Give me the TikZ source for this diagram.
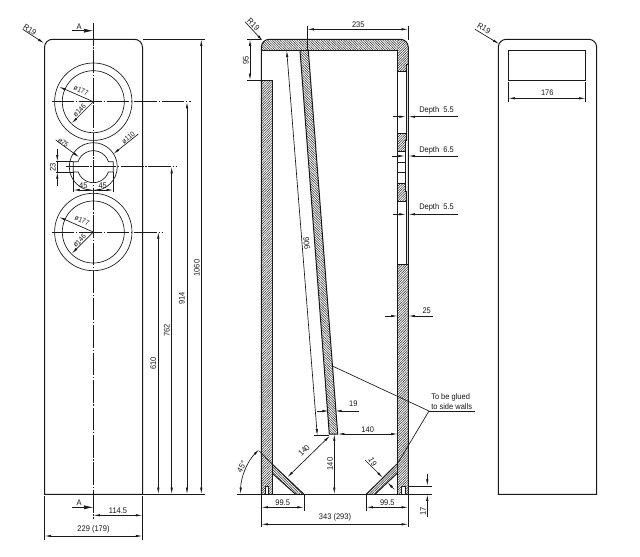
\documentclass[tikz,border=0pt]{standalone}
\usepackage{fontspec}
\setmainfont[FakeStretch=0.92]{Liberation Sans}
\usetikzlibrary{arrows.meta,patterns.meta}
\tikzset{
  x=0.75pt,y=-0.75pt,
  outl/.style={draw=black!90,line width=0.75pt},
  thin dim/.style={draw=black!90,line width=0.5pt},
  dim/.style={thin dim,{Latex[length=5pt,width=1.8pt]}-{Latex[length=5pt,width=1.8pt]}},
  ldr/.style={thin dim,-{Latex[length=5pt,width=1.8pt]}},
  ctr/.style={draw=black!90,line width=0.5pt,dash pattern=on 17pt off 1.3pt on 1pt off 1.3pt},
  hatchA/.style={pattern={Lines[angle=45,distance=1.3pt,line width=0.38pt]},pattern color=black!85},
  hatchB/.style={pattern={Lines[angle=-45,distance=1.3pt,line width=0.38pt]},pattern color=black!85},
  lab/.style={inner sep=0pt,font=\fontsize{6.1}{7}\selectfont,text=black!90},
  smalllab/.style={inner sep=0pt,font=\fontsize{5.4}{6}\selectfont,text=black!90},
}
\begin{document}
\begin{tikzpicture}
\useasboundingbox[fill=white] (0,0) rectangle (640,557);
% ---------- front view
\draw[outl] (44.5,494.3) -- (44.5,47.3) arc[start angle=180,end angle=270,radius=8] -- (134.5,39.3) arc[start angle=270,end angle=360,radius=8] -- (142.5,494.3) -- cycle;
\coordinate (c1) at (93.3,101.7);
\coordinate (c2) at (93.3,166.7);
\coordinate (c3) at (93.3,232);
\draw[outl,line width=0.5pt] (c1) circle[radius=38.7] (c1) circle[radius=31];
\draw[outl,line width=0.5pt] (c3) circle[radius=38.7] (c3) circle[radius=31];
\draw[outl,line width=0.5pt] (c2) circle[radius=24];
\draw[outl,line width=0.5pt] (73.3,161.7) -- (78.1,161.7) arc[start angle=198.2,end angle=341.8,radius=16] -- (113.3,161.7) -- (113.3,172) -- (108.4,172) arc[start angle=19.4,end angle=160.6,radius=16] -- (73.3,172) -- cycle;
\draw[ctr] (93.3,23) -- (93.3,519);
\draw[ctr] (51.7,101.7) -- (190.7,101.7);
\draw[ctr] (66,166.7) -- (176.7,166.7);
\draw[ctr] (51.7,232) -- (162,232);
\draw[thin dim] (142.5,39.3) -- (205,39.3) (142.5,494.3) -- (205,494.3);
\foreach \nm/\xx/\yy/\tx/\ty/\tt in {a/158.3/232/153.3/363.3/610,b/171.7/166.7/166.7/330.7/762,c/187/101.7/181.7/298.3/914,d/201.3/39.3/196.7/268/1060}{
  \draw[dim] (\xx,\yy) -- (\xx,494.3);
  \node[lab,rotate=90] (dim\nm) at (\tx,\ty) {\tt};
}
% A markers
\draw[thin dim,-{Latex[length=7pt,width=3pt]}] (72,30.7) -- (93.3,30.7);
\node[lab] (a1) at (79,27) {A};
\draw[thin dim,-{Latex[length=7pt,width=3pt]}] (72,507.3) -- (93.3,507.3);
\node[lab] (a2) at (79,503) {A};
% bottom dims
\draw[thin dim] (44.5,496) -- (44.5,540) (142.5,496) -- (142.5,540);
\draw[dim] (93.3,515.3) -- (142.5,515.3);
\node[lab] (t114) at (118,511) {114.5};
\draw[dim] (44.5,536) -- (142.5,536);
\node[lab] (t229) at (93.5,529) {229 (179)};
% radii
\draw[ldr] (22.7,29.3) -- (44.3,43.3);
\node[lab,rotate=-33] (r1) at (30,30) {R19};
\draw[ldr] (93.3,101.7) -- (59,86.7);
\node[smalllab,rotate=-24] (d1) at (81,90.5) {ø177};
\draw[ldr] (93.3,101.7) -- (71.7,123.3);
\node[smalllab,rotate=45] (d2) at (79.5,110.5) {ø146};
\draw[ldr] (93.3,232) -- (59,217);
\node[smalllab,rotate=-24] (d3) at (82,220.5) {ø177};
\draw[ldr] (93.3,232) -- (71.7,253.6);
\node[smalllab,rotate=45] (d4) at (79.5,240.8) {ø146};
\draw[ldr] (55.7,140) -- (79.3,157.3);
\node[smalllab,rotate=-37] (d5) at (63.3,142.7) {ø75};
\draw[ldr] (138.3,134) -- (113.3,154);
\node[smalllab,rotate=38] (d6) at (128.3,137.7) {ø110};
\draw[ldr] (57.3,149.3) -- (57.3,161.7);
\draw[ldr] (57.3,185.7) -- (57.3,172);
\draw[thin dim] (55.7,161.7) -- (73.3,161.7) (55.7,172) -- (73.3,172) (57.3,161.7) -- (57.3,172);
\node[lab,rotate=90] (t23) at (52.7,167.3) {23};
\draw[thin dim] (73.3,172) -- (73.3,192) (113.3,172) -- (113.3,192);
\draw[dim] (73.3,190) -- (93.3,190);
\draw[dim] (93.3,190) -- (113.3,190);
\node[lab] (t45a) at (83.3,185.5) {45};
\node[lab] (t45b) at (102.7,185.5) {45};
% ---------- section
% hatched parts
\path[hatchB] (261.3,50.3) -- (261.3,47.3) arc[start angle=180,end angle=270,radius=8] -- (397.7,39.3) -- (397.7,50.3) -- cycle;
\path[hatchA] (397.7,39.3) -- (400.3,39.3) arc[start angle=270,end angle=360,radius=8] -- (408.3,64) -- (406,64) -- (406,71.3) -- (397.7,71.3) -- cycle;
\path[hatchA] (397.7,133.3) -- (406,133.3) -- (406,151.7) -- (397.7,151.7) -- cycle;
\path[hatchA] (397.7,183.3) -- (406,183.3) -- (406,201) -- (397.7,201) -- cycle;
\path[hatchA] (397.7,264) -- (408.3,264) -- (408.3,494.3) -- (397.7,494.3) -- cycle;
\path[hatchA] (261.3,80.3) -- (272.3,80.3) -- (272.3,494.3) -- (261.3,494.3) -- cycle;
\path[hatchB] (300,50.3) -- (308.3,50.3) -- (337.7,434) -- (329.3,434) -- cycle;
\path[hatchB] (272.3,464.3) -- (304,494.3) -- (295.7,494.3) -- (272.3,473.3) -- cycle;
\path[hatchA] (397.7,463.3) -- (366.3,494.3) -- (375,494.3) -- (397.7,472.7) -- cycle;
% outlines
\draw[outl] (261.3,494.3) -- (261.3,47.3) arc[start angle=180,end angle=270,radius=8] -- (400.3,39.3) arc[start angle=270,end angle=360,radius=8] -- (408.3,494.3);
\draw[outl] (261.3,50.3) -- (397.7,50.3) -- (397.7,494.3);
\draw[outl] (261.3,80.3) -- (272.3,80.3) -- (272.3,494.3);
\draw[outl] (300,50.3) -- (329.3,434) -- (337.7,434) -- (308.3,50.3);
\draw[outl] (397.7,71.3) -- (406,71.3) -- (406,64) -- (408.3,64);
\draw[outl,line width=0.55pt] (406,64) -- (406,140) -- (405,140) -- (405,191) -- (406,191) -- (406,264);
\draw[outl] (397.7,133.3) -- (405.5,133.3) (397.7,151.7) -- (405,151.7);
\draw[outl,line width=0.55pt] (397.7,162.3) -- (405,162.3) (397.7,172.7) -- (405,172.7);
\draw[outl] (397.7,183.3) -- (405,183.3) (397.7,201) -- (406,201);
\draw[outl] (397.7,264) -- (408.3,264);
\draw[outl] (272.3,464.3) -- (304,494.3) (272.3,473.3) -- (295.7,494.3);
\draw[outl] (397.7,463.3) -- (366.3,494.3) (397.7,472.7) -- (375,494.3);
\draw[outl] (236.7,494.3) -- (408.3,494.3);
\fill[white] (265.3,486.7) rectangle (268.7,494.3);
\draw[outl,line width=0.5pt] (265.3,494.3) -- (265.3,486.7) -- (268.7,486.7) -- (268.7,494.3);
\fill[white] (401.3,486.7) rectangle (405.3,494.3);
\draw[outl,line width=0.5pt] (401.3,494.3) -- (401.3,486.7) -- (405.3,486.7) -- (405.3,494.3);
% section dims
\draw[ldr] (245,21.7) -- (262.8,41);
\node[lab,rotate=-45] (r2) at (253.5,24.5) {R19};
\draw[thin dim] (307.3,26) -- (307.3,50.3) (408.3,26) -- (408.3,40);
\draw[dim] (307.3,29.3) -- (408.3,29.3);
\node[lab] (t235) at (358.3,25) {235};
\draw[thin dim] (247,39.3) -- (261,39.3) (247,80.3) -- (261.3,80.3);
\draw[dim] (250,39.3) -- (250,80.3);
\node[lab,rotate=90] (t95) at (245.7,60) {95};
\draw[dim] (286.7,50.3) -- (317.3,435.7);
\draw[thin dim] (314,435.7) -- (329.3,435.7);
\node[lab,rotate=-85.5] (t906) at (306.7,243) {906};
\foreach \nm/\yy/\ty/\xl/\xr/\tt in {p/116.7/110/393.3/406/5.5,q/156/150/392/405/6.5,s/214.3/207.7/393.3/406/5.5}{
  \draw[ldr] (\xl,\yy) -- (\xr,\yy);
  \draw[ldr] (458,\yy) -- (408.3,\yy);
  \node[lab,anchor=west] (dep\nm) at (419,\ty) {Depth\ \ \tt};
}
\draw[ldr] (385,316) -- (397.7,316);
\draw[ldr] (432.7,316) -- (408.3,316);
\node[lab] (t25) at (426.7,311) {25};
\draw[ldr] (317.3,411) -- (329,411);
\draw[ldr] (359.3,411) -- (335,411);
\node[lab] (t19a) at (353.3,404) {19};
\draw[dim] (337.7,434) -- (397.7,434);
\node[lab] (t140a) at (367.7,429.3) {140};
\draw[dim] (334.3,434) -- (334.3,494.3);
\node[lab,rotate=90] (t140b) at (330,464) {140};
\draw[dim] (330,435.7) -- (287.3,477.3);
\node[lab,rotate=45] (t140c) at (304,450.5) {140};
\draw[thin dim] (272.3,464.3) -- (259.3,451);
\draw[dim] (259.3,449.3) arc[start angle=225,end angle=180,radius=63.6];
\node[lab,rotate=60] (t45d) at (241.7,466.7) {45°};
\draw[ldr] (365,460) -- (382.8,477.8);
\draw[ldr] (394.3,489.3) -- (387.3,482.3);
\node[lab,rotate=-60] (t19b) at (372.7,461.7) {19};
% bottom
\draw[thin dim] (261.3,495) -- (261.3,527) (408.3,495) -- (408.3,527);
\draw[thin dim] (304,495) -- (304,510.7) (366.3,495) -- (366.3,510.7);
\draw[dim] (261.3,507.3) -- (304,507.3);
\node[lab] (t99a) at (282.7,502.7) {99.5};
\draw[dim] (366.3,507.3) -- (408.3,507.3);
\node[lab] (t99b) at (387.3,502.7) {99.5};
\draw[dim] (261.3,524.3) -- (408.3,524.3);
\node[lab] (t343) at (335,517.3) {343 (293)};
\draw[thin dim] (408.3,486) -- (431.7,486) (408.3,494.3) -- (431.7,494.3);
\draw[ldr] (427.3,474) -- (427.3,486);
\draw[ldr] (427.3,517) -- (427.3,494.3);
\node[lab,rotate=90] (t17) at (423,511) {17};
% leaders
\coordinate (g) at (429,411);
\draw[thin dim] (331.7,365.7) -- (g) -- (397.7,463.3);
\draw[thin dim] (g) -- (475,411);
\node[lab,anchor=west] (tg1) at (431,397) {To be glued};
\node[lab,anchor=west] (tg2) at (431,406.5) {to side walls};
% ---------- back view
\draw[outl] (498.3,494.3) -- (498.3,47.3) arc[start angle=180,end angle=270,radius=8] -- (588.7,39.3) arc[start angle=270,end angle=360,radius=8] -- (596.7,494.3) -- cycle;
\draw[outl] (508.3,50.3) rectangle (585.7,80.3);
\draw[ldr] (475,29.3) -- (499.3,44);
\node[lab,rotate=-30] (r3) at (484,28.3) {R19};
\draw[thin dim] (508.3,82.3) -- (508.3,101.7) (585.7,82.3) -- (585.7,101.7);
\draw[dim] (508.3,98.3) -- (585.7,98.3);
\node[lab] (t176) at (547.3,93) {176};
\end{tikzpicture}
\end{document}
